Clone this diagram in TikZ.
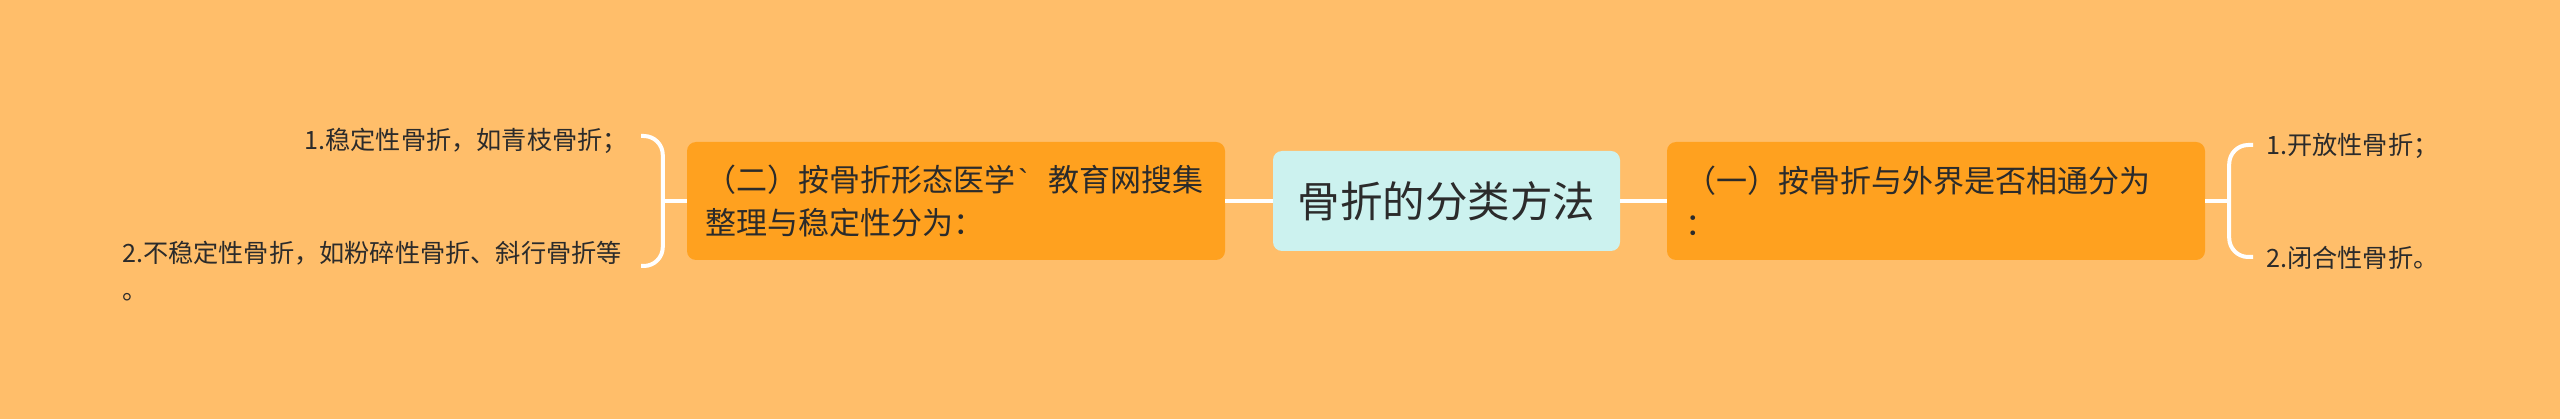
\documentclass[tikz,border=0pt]{standalone}
\usepackage{fontspec}
\setmainfont{Noto Sans CJK SC}
\newfontfamily\gravefont{Liberation Sans}
\usetikzlibrary{calc}
\definecolor{bgc}{HTML}{FFBE6A}
\definecolor{orangec}{HTML}{FFA11F}
\definecolor{centerc}{HTML}{CCF2EF}
\definecolor{txtc}{HTML}{2B2B2B}
\begin{document}
\begin{tikzpicture}[x=1pt,y=-1pt,
  link/.style={draw=white,line width=4pt,rounded corners=19pt},
  rootbox/.style={fill=centerc,rounded corners=9pt,minimum width=347pt,minimum height=100pt,inner sep=0pt,text=txtc,font=\fontsize{42.5}{50}\selectfont},
  catbox/.style={fill=orangec,rounded corners=9pt,text width=502pt,inner xsep=18pt,minimum height=118pt,align=left,text=txtc,font=\fontsize{31}{43}\selectfont},
  leaf/.style={inner sep=0pt,text=txtc,font=\fontsize{25.2}{37}\selectfont}]
\useasboundingbox (0,0) rectangle (2560,419);
\fill[bgc] (0,0) rectangle (2560,419);
\node[rootbox] (root) at (1446.5,201) {骨折的分类方法};
\node[catbox] (L) at (956,201) {（二）按骨折形态医学\hspace{3pt}{\gravefont\char"0060}\hspace{20pt}教育网搜集\\整理与稳定性分为：};
\node[catbox] (R) at (1936,201) {（一）按骨折与外界是否相通分为\\：};
\node[leaf,anchor=east] (l1) at (628,141) {1.稳定性骨折，如青枝骨折；};
\node[leaf,anchor=west,text width=510pt,align=left] (l2) at (122,271.5) {2.不稳定性骨折，如粉碎性骨折、斜行骨折等\\。};
\node[leaf,anchor=west] (r1) at (2266,146) {1.开放性骨折；};
\node[leaf,anchor=west] (r2) at (2266,258) {2.闭合性骨折。};
\draw[link] (root.west) -- (L.east);
\draw[link] (root.east) -- (R.west);
\coordinate (lt) at ($(l1.east)+(13,-5)$);
\coordinate (lb) at (641,266);
\coordinate (lm) at ($(L.west)+(-24,0)$);
\draw[link] (lt) -| (lm) |- (lb);
\draw[link] (L.west) -- (lm);
\coordinate (rt) at ($(r1.west)+(-13,-1)$);
\coordinate (rb) at ($(r2.west)+(-13,-1)$);
\coordinate (rm) at ($(R.east)+(24,0)$);
\draw[link] (rt) -| (rm) |- (rb);
\draw[link] (R.east) -- (rm);
\end{tikzpicture}
\end{document}
